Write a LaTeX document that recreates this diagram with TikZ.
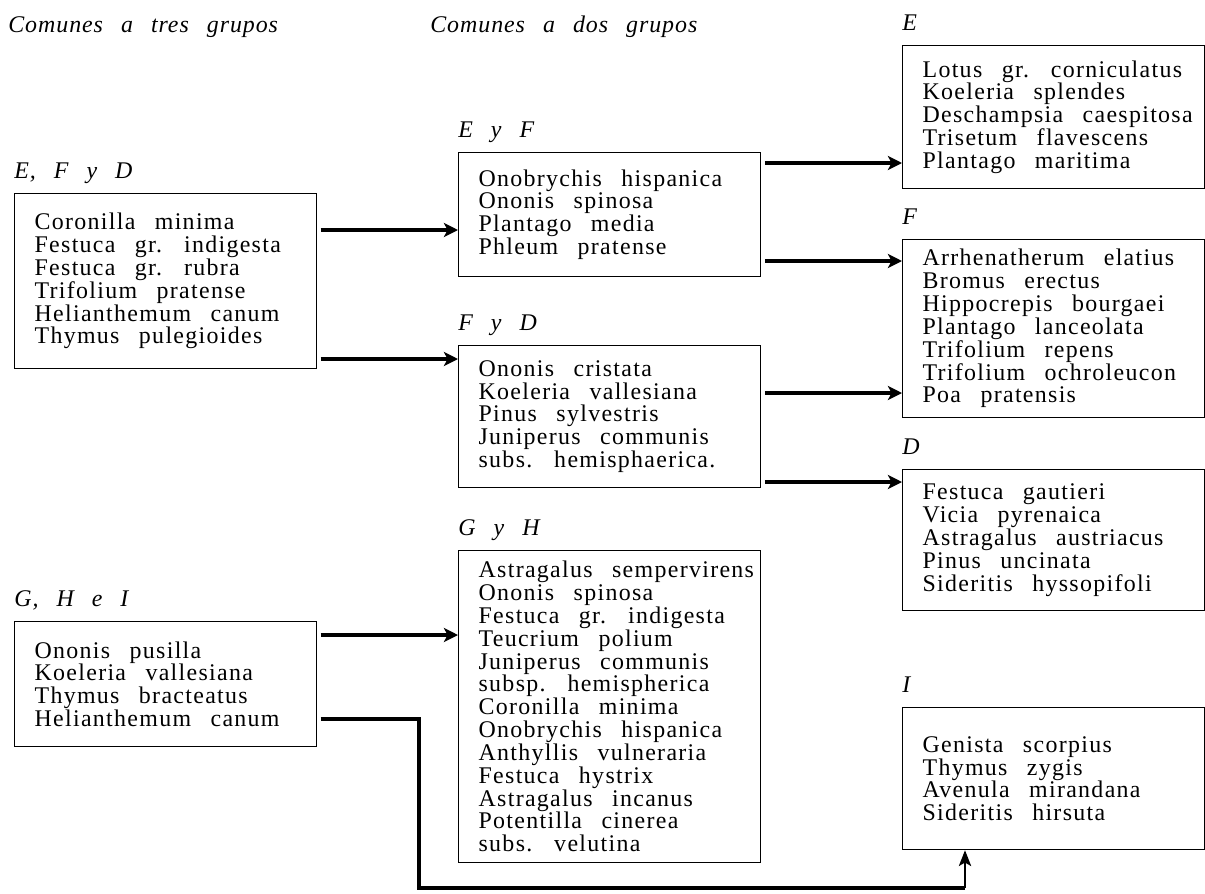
\documentclass[tikz,border=0pt]{standalone}
\usepackage{fontspec}
\setmainfont{Liberation Serif}[LetterSpace=4.0,WordSpace=2.6]
\newfontfamily\spfont{Liberation Serif}[LetterSpace=5.5,WordSpace=2.67]
\usetikzlibrary{arrows.meta,positioning}
\newlength\boxtw
\setlength\boxtw{5.24cm}
\newcommand\splist[1]{\makebox[\boxtw][l]{\vbox{\hsize=8cm\raggedright\lineskiplimit=-10pt\noindent#1}}}
\tikzset{
  spbox/.style={draw,line width=0.7pt,anchor=north west,inner xsep=0.4cm,inner ysep=0pt,
    minimum width=6.04cm,font=\spfont\fontsize{13.6}{13.0}\selectfont},
  grp/.style={anchor=base west,inner sep=0pt,font=\itshape\fontsize{13.6}{13.0}\selectfont},
  link/.style={line width=2.1pt,shorten <=2pt,-{Stealth[length=8pt,width=8pt,inset=2pt]}},
}
\begin{document}
\begin{tikzpicture}
  \useasboundingbox (0,0) rectangle (24.1,-17.86);
  % column headings
  \node[grp] (tres) at (0.16,-0.64) {Comunes a tres grupos};
  \node[grp] (dos) at (8.6,-0.64) {Comunes a dos grupos};

  % common to three groups
  \node[spbox,minimum height=3.50cm] (efd) at (0.28,-3.86) {\splist{Coronilla minima\\Festuca gr. indigesta\\Festuca gr. rubra\\Trifolium pratense\\Helianthemum canum\\Thymus pulegioides}};
  \node[grp] (efdlab) at ([yshift=3mm]efd.north west) {E, F y D};
  \node[spbox,minimum height=2.50cm] (ghi) at (0.28,-12.42) {\splist{Ononis pusilla\\Koeleria vallesiana\\Thymus bracteatus\\Helianthemum canum}};
  \node[grp] (ghilab) at ([yshift=3mm]ghi.north west) {G, H e I};

  % common to two groups
  \node[spbox,minimum height=2.48cm] (eyf) at (9.16,-3.04) {\splist{Onobrychis hispanica\\Ononis spinosa\\Plantago media\\Phleum pratense}};
  \node[grp] (eyflab) at ([yshift=3mm]eyf.north west) {E y F};
  \node[spbox,minimum height=2.84cm] (fyd) at (9.16,-6.90) {\splist{Ononis cristata\\Koeleria vallesiana\\Pinus sylvestris\\Juniperus communis\\subs. hemisphaerica.}};
  \node[grp] (fydlab) at ([yshift=3mm]fyd.north west) {F y D};
  \node[spbox,minimum height=6.24cm] (gyh) at (9.16,-11.00) {\splist{Astragalus sempervirens\\Ononis spinosa\\Festuca gr. indigesta\\Teucrium polium\\Juniperus communis\\subsp. hemispherica\\Coronilla minima\\Onobrychis hispanica\\Anthyllis vulneraria\\Festuca hystrix\\Astragalus incanus\\Potentilla cinerea\\subs. velutina}};
  \node[grp] (gyhlab) at ([yshift=3mm]gyh.north west) {G y H};

  % single groups
  \node[spbox,minimum height=2.86cm] (e) at (18.04,-0.90) {\splist{Lotus gr. corniculatus\\Koeleria splendes\\Deschampsia caespitosa\\Trisetum flavescens\\Plantago maritima}};
  \node[grp] (elab) at ([yshift=3mm]e.north west) {E};
  \node[spbox,minimum height=3.56cm] (f) at (18.04,-4.78) {\splist{Arrhenatherum elatius\\Bromus erectus\\Hippocrepis bourgaei\\Plantago lanceolata\\Trifolium repens\\Trifolium ochroleucon\\Poa pratensis}};
  \node[grp] (flab) at ([yshift=3mm]f.north west) {F};
  \node[spbox,minimum height=2.82cm] (d) at (18.04,-9.38) {\splist{Festuca gautieri\\Vicia pyrenaica\\Astragalus austriacus\\Pinus uncinata\\Sideritis hyssopifoli}};
  \node[grp] (dlab) at ([yshift=3mm]d.north west) {D};
  \node[spbox,minimum height=2.84cm] (i) at (18.04,-14.14) {\splist{Genista scorpius\\Thymus zygis\\Avenula mirandana\\Sideritis hirsuta}};
  \node[grp] (ilab) at ([yshift=3mm]i.north west) {I};

  % arrow heights
  \coordinate (y1) at (0,-4.60);
  \coordinate (y2) at (0,-7.18);
  \coordinate (y3) at (0,-3.26);
  \coordinate (y4) at (0,-5.22);
  \coordinate (y5) at (0,-7.86);
  \coordinate (y6) at (0,-9.64);
  \coordinate (y7) at (0,-12.70);
  \coordinate (y8) at (0,-14.38);
  \coordinate (bend) at (8.38,-17.76);
  \coordinate (foot) at (19.30,-17.76);

  \draw[link] (efd.east |- y1) -- (eyf.west |- y1);
  \draw[link] (efd.east |- y2) -- (fyd.west |- y2);
  \draw[link] (eyf.east |- y3) -- (e.west |- y3);
  \draw[link] (eyf.east |- y4) -- (f.west |- y4);
  \draw[link] (fyd.east |- y5) -- (f.west |- y5);
  \draw[link] (fyd.east |- y6) -- (d.west |- y6);
  \draw[link] (ghi.east |- y7) -- (gyh.west |- y7);
  % long way round to I
  \draw[line width=2.1pt,shorten <=2pt] (ghi.east |- y8) -| (bend) -- (foot);
  \draw[line width=1pt,-{Stealth[length=9pt,width=7pt,inset=2pt]}] (foot) -- (foot |- i.south);
\end{tikzpicture}
\end{document}
